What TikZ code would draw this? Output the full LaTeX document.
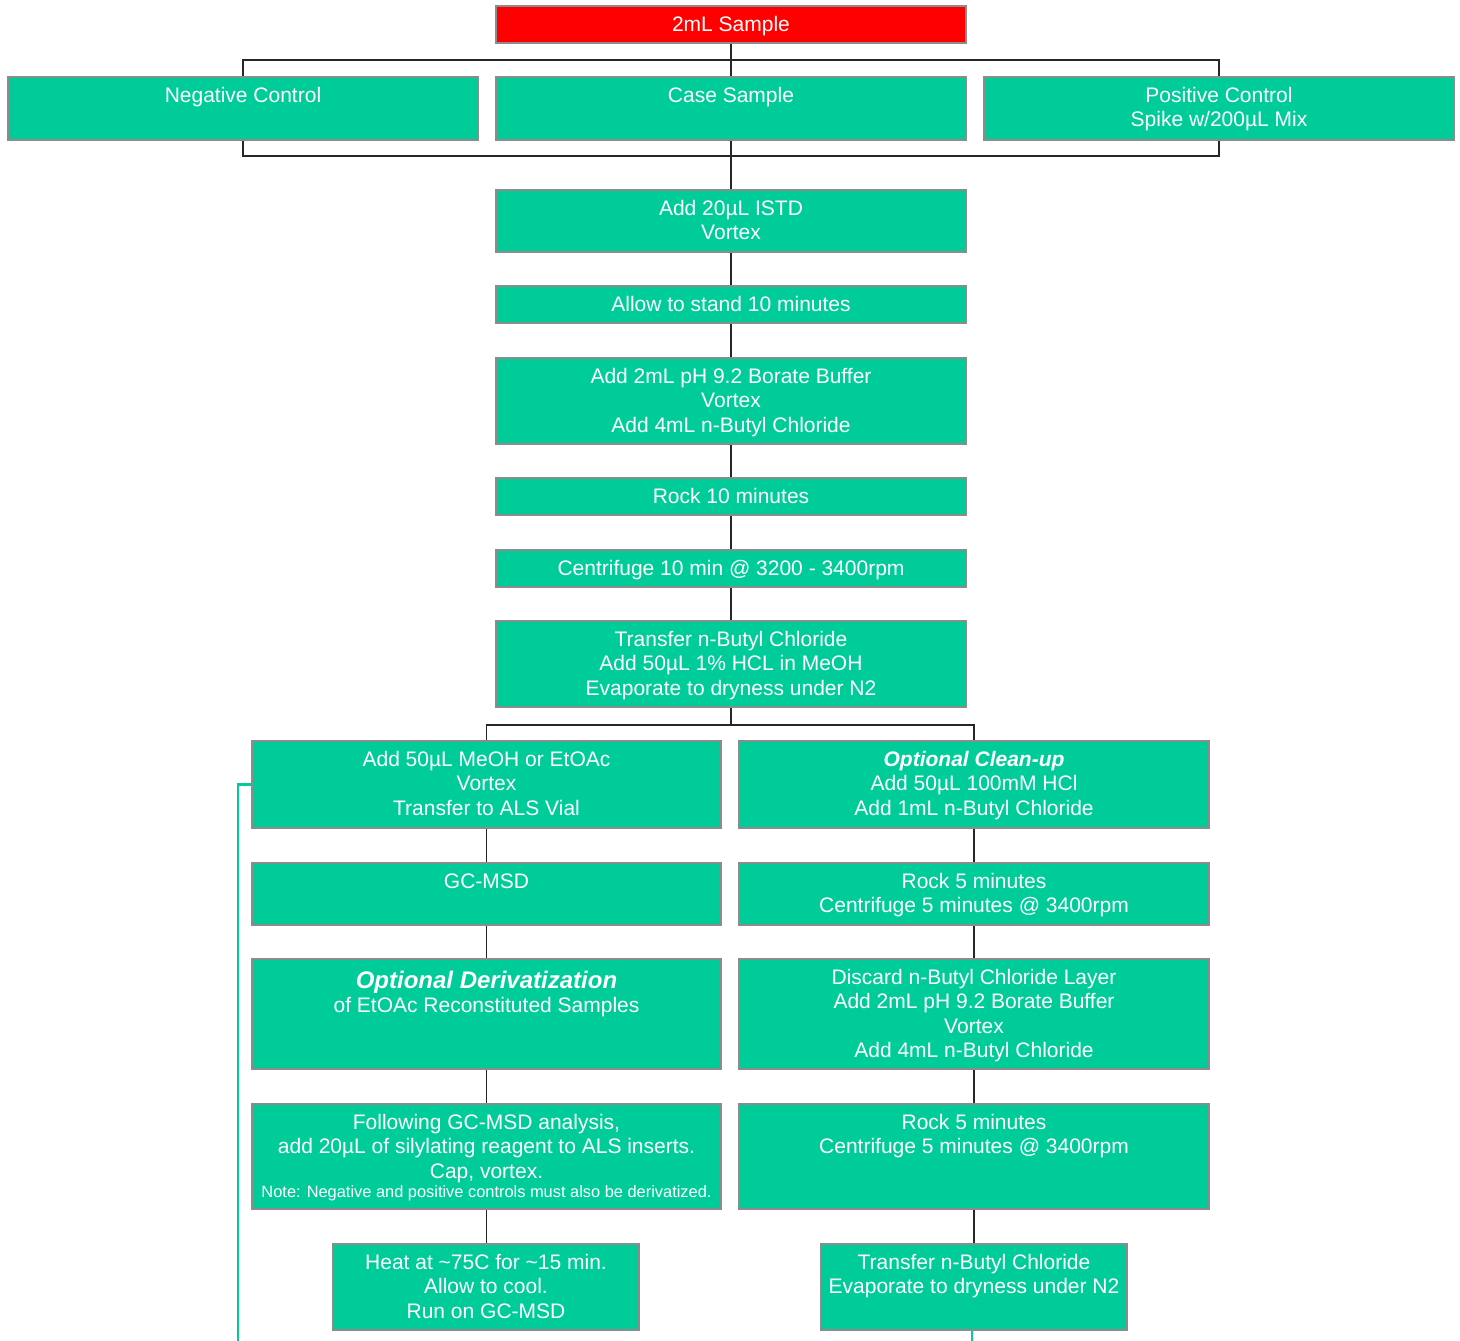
\documentclass[tikz,border=0pt]{standalone}
\usepackage{fontspec}
\setmainfont{Liberation Sans}
\usetikzlibrary{backgrounds}
\definecolor{tealbox}{RGB}{0,204,153}
\definecolor{redbox}{RGB}{255,0,0}
\definecolor{edgegray}{RGB}{140,140,140}
\tikzset{
  box/.style={draw=edgegray, line width=0.6pt, fill=tealbox, inner sep=0pt, outer sep=0pt},
  redb/.style={box, fill=redbox},
  txt/.style={anchor=north, inner sep=0pt, outer sep=0pt, align=center, text=white,
    font=\fontsize{10.5}{12.25}\selectfont},
  conn/.style={draw=black!85, line width=0.6pt},
  tealline/.style={draw=tealbox, line width=1.3pt}
}
\newcommand{\bx}[7]{%
  \node[#1, minimum width={(#5-#3)*0.5pt}, minimum height={(#6-#4)*0.5pt}] (#2) at ({(#3+#5)/2},{(#4+#6)/2}) {};
  \node[txt] (#2-t) at ([yshift=-3.7pt]#2.north) {\rule{0pt}{9pt}#7};}
\begin{document}
\begin{tikzpicture}[x=0.5pt, y=-0.5pt]
\useasboundingbox (0,0) rectangle (1460,1340);
\bx{redb}{smp}{496}{6}{966}{43}{2mL Sample}
\bx{box}{neg}{8}{77}{478}{140}{Negative Control}
\bx{box}{case}{496}{77}{966}{140}{Case Sample}
\bx{box}{pos}{984}{77}{1454}{140}{Positive Control\\Spike w/200µL Mix}
\bx{box}{istd}{496}{190}{966}{252}{Add 20µL ISTD\\Vortex}
\bx{box}{stand}{496}{286}{966}{323}{Allow to stand 10 minutes}
\bx{box}{bor}{496}{358}{966}{444}{Add 2mL pH 9.2 Borate Buffer\\Vortex\\Add 4mL n-Butyl Chloride}
\bx{box}{rock}{496}{478}{966}{515}{Rock 10 minutes}
\bx{box}{cent}{496}{550}{966}{587}{Centrifuge 10 min @ 3200 - 3400rpm}
\bx{box}{trans}{496}{621}{966}{707}{Transfer n-Butyl Chloride\\Add 50µL 1\% HCL in MeOH\\Evaporate to dryness under N2}
\bx{box}{meoh}{252}{741}{721}{828}{Add 50µL MeOH or EtOAc\\Vortex\\Transfer to ALS Vial}
\bx{box}{clean}{739}{741}{1209}{828}{\textbf{\textit{Optional Clean-up}}\\Add 50µL 100mM HCl\\Add 1mL n-Butyl Chloride}
\bx{box}{gc}{252}{863}{721}{925}{GC-MSD}
\bx{box}{rockA}{739}{863}{1209}{925}{Rock 5 minutes\\Centrifuge 5 minutes @ 3400rpm}
\bx{box}{der}{252}{959}{721}{1069}{\rule{0pt}{10.8pt}{\fontsize{12}{14}\selectfont\textbf{\textit{Optional Derivatization}}}\\of EtOAc Reconstituted Samples}
\bx{box}{disc}{739}{959}{1209}{1069}{Discard n-Butyl Chloride Layer\\Add 2mL pH 9.2 Borate Buffer\\Vortex\\Add 4mL n-Butyl Chloride}
\bx{box}{foll}{252}{1104}{721}{1209}{Following GC-MSD analysis,\\add 20µL of silylating reagent to ALS inserts.\\Cap, vortex.\\[-2.5pt]{\fontsize{8.2}{9}\selectfont Note: Negative and positive controls must also be derivatized.}}
\bx{box}{rockB}{739}{1104}{1209}{1209}{Rock 5 minutes\\Centrifuge 5 minutes @ 3400rpm}
\bx{box}{heat}{333}{1244}{639}{1330}{Heat at \textasciitilde75C for \textasciitilde15 min.\\Allow to cool.\\Run on GC-MSD}
\bx{box}{trB}{821}{1244}{1127}{1330}{Transfer n-Butyl Chloride\\Evaporate to dryness under N2}
\coordinate (b1) at (731,60);
\coordinate (b2) at (731,156);
\coordinate (b3) at (731,725);
\coordinate (e1) at (238,1342);
\coordinate (e2) at (972,1342);
\begin{pgfonlayer}{background}
\draw[conn] (smp.south) -- (case.north);
\draw[conn] (neg.north) |- (b1) -| (pos.north);
\draw[conn] (neg.south) |- (b2) -| (pos.south);
\draw[conn] (case.south) -- (istd.north);
\draw[conn] (istd) -- (stand);
\draw[conn] (stand) -- (bor);
\draw[conn] (bor) -- (rock);
\draw[conn] (rock) -- (cent);
\draw[conn] (cent) -- (trans);
\draw[conn] (trans.south) -- (b3);
\draw[conn] (meoh.north) |- (b3) -| (clean.north);
\draw[conn] (meoh) -- (gc);
\draw[conn] (gc) -- (der);
\draw[conn] (der) -- (foll);
\draw[conn] (foll.south) -- (heat.north -| foll.south);
\draw[conn] (clean) -- (rockA);
\draw[conn] (rockA) -- (disc);
\draw[conn] (disc) -- (rockB);
\draw[conn] (rockB) -- (trB);
\draw[tealline] (meoh.west) -| (e1);
\draw[tealline] (trB.south -| e2) -- (e2);
\end{pgfonlayer}
\end{tikzpicture}
\end{document}
